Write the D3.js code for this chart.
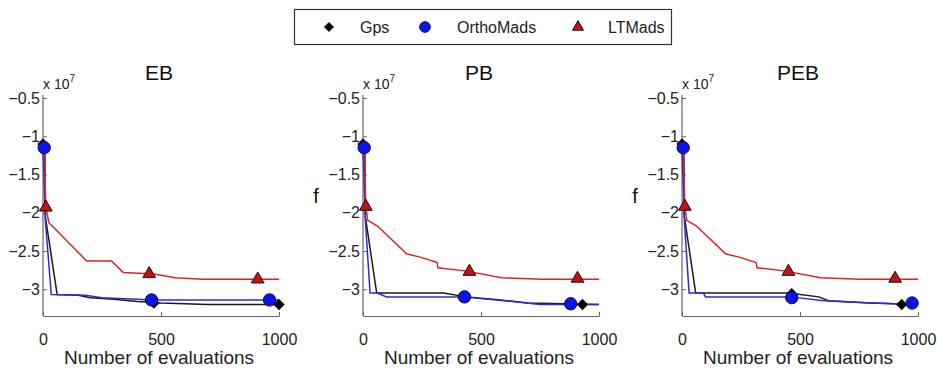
<!DOCTYPE html>
<html>
<head>
<meta charset="utf-8">
<script src="https://cdn.jsdelivr.net/npm/d3@7"></script>
<style>
  body { margin: 0; background: #fff; }
  svg { font-family: "Liberation Sans", Arial, sans-serif; }
</style>
</head>
<body>
<svg id="chart" width="937" height="368"></svg>
<script>
// panel titles and ticks
const panels = ['EB', 'PB', 'PEB'];
const xTicks = [0, 500, 1000];
const yTicks = [-0.5, -1, -1.5, -2, -2.5, -3];
const seriesNames = ['Gps', 'OrthoMads', 'LTMads'];

// curves, f in units of 1e7 : [evaluations, f]
const gpsEB = [[0, -1.1], [8, -1.12], [10, -2.05], [60, -3.07], [150, -3.08], [200, -3.11], [300, -3.13], [400, -3.16], [500, -3.18], [700, -3.2], [1000, -3.2]];
const orthoEB = [[0, -1.15], [10, -2.1], [35, -3.07], [180, -3.08], [250, -3.11], [400, -3.13], [450, -3.14], [1000, -3.14]];
const ltEB = [[5, -1.1], [12, -1.93], [25, -2.13], [185, -2.63], [290, -2.63], [340, -2.78], [470, -2.8], [560, -2.85], [680, -2.87], [1000, -2.87]];

const gpsPB = [[0, -1.1], [8, -1.12], [10, -2.05], [58, -3.05], [340, -3.05], [440, -3.1], [550, -3.13], [700, -3.18], [1000, -3.2]];
const orthoPB = [[0, -1.15], [10, -2.1], [30, -3.05], [60, -3.05], [100, -3.1], [420, -3.1], [600, -3.15], [750, -3.2], [1000, -3.2]];
const ltPB = [[5, -1.1], [12, -1.92], [20, -2.1], [60, -2.17], [186, -2.54], [243, -2.58], [314, -2.65], [318, -2.72], [433, -2.76], [587, -2.85], [757, -2.87], [1000, -2.87]];

const gpsPEB = [[0, -1.1], [8, -1.12], [10, -2.05], [58, -3.05], [450, -3.05], [580, -3.1], [620, -3.15], [800, -3.18], [1000, -3.2]];
const orthoPEB = [[0, -1.15], [10, -2.1], [30, -3.05], [90, -3.05], [100, -3.1], [460, -3.1], [600, -3.15], [800, -3.18], [1000, -3.2]];
const ltPEB = [[5, -1.1], [12, -1.92], [20, -2.1], [60, -2.17], [186, -2.54], [243, -2.58], [314, -2.65], [318, -2.72], [433, -2.76], [587, -2.85], [757, -2.87], [1000, -2.87]];

// marker positions
const gpsMarkEB = [[0, -1.1], [470, -3.18], [1000, -3.2]];
const orthoMarkEB = [[5, -1.15], [460, -3.14], [960, -3.14]];
const ltMarkEB = [[12, -1.93], [450, -2.8], [910, -2.87]];

const gpsMarkPB = [[0, -1.1], [430, -3.1], [930, -3.2]];
const orthoMarkPB = [[5, -1.15], [430, -3.1], [880, -3.19]];
const ltMarkPB = [[12, -1.92], [451, -2.77], [909, -2.86]];

const gpsMarkPEB = [[0, -1.1], [465, -3.06], [931, -3.2]];
const orthoMarkPEB = [[5, -1.15], [465, -3.11], [975, -3.18]];
const ltMarkPEB = [[12, -1.92], [451, -2.77], [903, -2.86]];

const lines = [[gpsEB, orthoEB, ltEB], [gpsPB, orthoPB, ltPB], [gpsPEB, orthoPEB, ltPEB]];
const marks = [[gpsMarkEB, orthoMarkEB, ltMarkEB], [gpsMarkPB, orthoMarkPB, ltMarkPB], [gpsMarkPEB, orthoMarkPEB, ltMarkPEB]];

// styles
const lineColors = ['#1a1a1a', '#2b2bd6', '#d82424'];
const markFill = ['#000000', '#0a14f0', '#c81010'];
// diamond = square turned 45deg
const symbols = [d3.symbolSquare, d3.symbolCircle, d3.symbolTriangle];
const symbolSize = [50, 120, 70];
const symbolRot = [45, 0, 0];

const svg = d3.select('#chart');
const panelLeft = [43, 363, 682];
const panelWidth = 236;
const plotTop = 98, plotBottom = 316;

const minus = s => String(s).replace('-', '\u2212');

panels.forEach(function (name, p) {
    const x = d3.scaleLinear().domain([0, 1000]).range([panelLeft[p], panelLeft[p] + panelWidth]);
    const y = d3.scaleLinear().domain([-3.35, -0.5]).range([plotBottom, plotTop]);
    const g = svg.append('g');

    // axes (ticks pointing inward like matlab)
    const ax = g.append('g')
        .attr('transform', 'translate(0,' + plotBottom + ')')
        .call(d3.axisBottom(x).tickValues(xTicks).tickSizeInner(-4).tickSizeOuter(0).tickPadding(18).tickFormat(d3.format('d')));
    const ay = g.append('g')
        .attr('transform', 'translate(' + panelLeft[p] + ',0)')
        .call(d3.axisLeft(y).tickValues(yTicks).tickSizeInner(-4).tickSizeOuter(0).tickPadding(3).tickFormat(minus));
    [ax, ay].forEach(function (a) {
        a.select('.domain').attr('stroke', '#666').attr('stroke-width', 1.2);
        a.selectAll('.tick line').attr('stroke', '#666');
        a.selectAll('text').attr('fill', '#222').style('font-size', '16px').style('font-family', '"Liberation Sans", Arial, sans-serif');
    });
    ay.select('.domain').attr('d', 'M0,' + (plotTop - 3) + 'V' + plotBottom);

    // title
    g.append('text')
        .attr('x', x(500) - 2).attr('y', 80)
        .attr('text-anchor', 'middle')
        .style('font-size', '21px').attr('fill', '#111')
        .text(name);

    // exponent label
    const ex = g.append('text')
        .attr('x', panelLeft[p]).attr('y', 89)
        .style('font-size', '14px').attr('fill', '#222');
    ex.append('tspan').text('x 10');
    ex.append('tspan').attr('dy', -7).style('font-size', '10px').text('7');

    // x label
    g.append('text')
        .attr('x', x(500) - 2).attr('y', 364)
        .attr('text-anchor', 'middle')
        .style('font-size', '19px').attr('fill', '#222')
        .text('Number of evaluations');

    // y label only on 2nd and 3rd panel
    if (p > 0) {
        g.append('text')
            .attr('x', panelLeft[p] - 47).attr('y', 203)
            .attr('text-anchor', 'middle')
            .style('font-size', '20px').attr('fill', '#111')
            .text('f');
    }

    const line = d3.line()
        .x(function (d) { return x(d[0]); })
        .y(function (d) { return y(d[1]); });

    for (let s = 0; s < 3; s++) {
        g.append('path')
            .datum(lines[p][s])
            .attr('fill', 'none')
            .attr('stroke', lineColors[s])
            .attr('stroke-width', 1.5)
            .attr('d', line);
    }
    for (let s = 0; s < 3; s++) {
        g.selectAll('.mark' + s)
            .data(marks[p][s])
            .enter().append('path')
            .attr('transform', function (d) { return 'translate(' + x(d[0]) + ',' + y(d[1]) + ') rotate(' + symbolRot[s] + ')'; })
            .attr('d', d3.symbol().type(symbols[s]).size(symbolSize[s]))
            .attr('fill', markFill[s])
            .attr('stroke', '#111')
            .attr('stroke-width', 1);
    }
});

// legend
const legend = svg.append('g');
legend.append('rect')
    .attr('x', 294.5).attr('y', 9.5).attr('width', 377).attr('height', 35)
    .attr('fill', '#fff').attr('stroke', '#333').attr('stroke-width', 1.2);
const legendMarkX = [329, 425, 578];
const legendTextX = [360, 457, 608];
seriesNames.forEach(function (n, s) {
    legend.append('path')
        .attr('transform', 'translate(' + legendMarkX[s] + ',27) rotate(' + symbolRot[s] + ')')
        .attr('d', d3.symbol().type(symbols[s]).size(symbolSize[s] * 0.75))
        .attr('fill', markFill[s]).attr('stroke', '#111').attr('stroke-width', 1);
    legend.append('text')
        .attr('x', legendTextX[s]).attr('y', 33)
        .style('font-size', '16px').attr('fill', '#222')
        .text(n);
});
</script>
</body>
</html>
